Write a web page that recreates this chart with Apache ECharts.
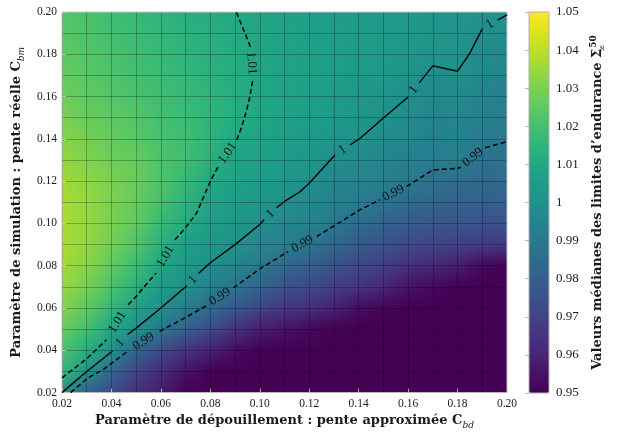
<!DOCTYPE html>
<html>
<head>
<meta charset="utf-8">
<script src="https://cdn.jsdelivr.net/npm/echarts@6/dist/echarts.min.js"></script>
<style>
html,body{margin:0;padding:0;background:#fff;}
#chart{width:617px;height:435px;}
</style>
</head>
<body>
<div id="chart"></div>
<script>
// ---------- data ----------
const xValues = [0.02,0.03,0.04,0.05,0.06,0.07,0.08,0.09,0.10,0.11,0.12,0.13,0.14,0.15,0.16,0.17,0.18,0.19,0.20];
const yValues = [0.02,0.03,0.04,0.05,0.06,0.07,0.08,0.09,0.10,0.11,0.12,0.13,0.14,0.15,0.16,0.17,0.18,0.19,0.20];
// valuesByX[i][j] : median value at x = xValues[i], y = yValues[j]
const valuesByX = [
  [1.000,1.016,1.021,1.026,1.031,1.034,1.036,1.037,1.037,1.037,1.036,1.034,1.032,1.030,1.028,1.026,1.025,1.024,1.023],
  [0.980,1.001,1.012,1.019,1.025,1.029,1.032,1.034,1.034,1.034,1.033,1.031,1.029,1.027,1.025,1.024,1.023,1.022,1.021],
  [0.972,0.982,1.000,1.009,1.016,1.021,1.025,1.028,1.030,1.030,1.030,1.028,1.026,1.025,1.023,1.022,1.021,1.020,1.019],
  [0.963,0.970,0.981,1.000,1.0065,1.013,1.018,1.022,1.025,1.026,1.027,1.026,1.024,1.023,1.021,1.020,1.019,1.018,1.017],
  [0.958,0.962,0.972,0.9895,1.000,1.004,1.0087,1.013,1.017,1.020,1.022,1.022,1.021,1.020,1.019,1.018,1.017,1.016,1.015],
  [0.950,0.955,0.965,0.980,0.9915,1.000,1.003,1.0065,1.011,1.014,1.017,1.019,1.019,1.018,1.017,1.016,1.015,1.014,1.013],
  [0.946,0.950,0.959,0.972,0.985,0.9935,0.999,1.0035,1.006,1.008,1.0098,1.0135,1.015,1.015,1.015,1.014,1.013,1.013,1.012],
  [0.945,0.947,0.953,0.964,0.977,0.988,0.995,1.000,1.003,1.005,1.007,1.0085,1.0105,1.0115,1.012,1.012,1.0115,1.011,1.0105],
  [0.945,0.946,0.950,0.958,0.970,0.981,0.9905,0.996,1.000,1.003,1.005,1.0065,1.008,1.009,1.0095,1.0095,1.0092,1.009,1.0085],
  [0.945,0.945,0.948,0.955,0.966,0.975,0.984,0.992,0.996,1.000,1.0025,1.0045,1.006,1.007,1.008,1.008,1.008,1.0078,1.0075],
  [0.945,0.945,0.946,0.952,0.963,0.972,0.980,0.9885,0.994,0.997,1.000,1.0025,1.004,1.0055,1.0065,1.007,1.007,1.0068,1.0065],
  [0.945,0.945,0.946,0.950,0.959,0.968,0.975,0.983,0.9905,0.994,0.996,0.999,1.002,1.004,1.005,1.006,1.006,1.006,1.0055],
  [0.945,0.945,0.945,0.948,0.953,0.965,0.971,0.978,0.985,0.9915,0.995,0.9975,1.000,1.002,1.0035,1.0045,1.005,1.005,1.0048],
  [0.945,0.945,0.945,0.946,0.951,0.961,0.968,0.975,0.981,0.988,0.993,0.995,0.9975,1.000,1.0015,1.003,1.004,1.004,1.004],
  [0.945,0.945,0.945,0.945,0.949,0.955,0.964,0.972,0.979,0.985,0.991,0.9935,0.996,0.998,0.9998,1.0015,1.003,1.0035,1.0035],
  [0.945,0.945,0.945,0.945,0.947,0.952,0.961,0.970,0.977,0.982,0.987,0.9925,0.9935,0.995,0.9965,0.9985,1.001,1.002,1.0025],
  [0.945,0.945,0.945,0.945,0.946,0.948,0.958,0.969,0.976,0.981,0.985,0.9935,0.9945,0.996,0.9975,0.9995,1.0015,1.0015,1.002],
  [0.945,0.945,0.945,0.945,0.945,0.946,0.952,0.967,0.975,0.980,0.984,0.9875,0.991,0.993,0.995,0.9965,0.998,0.9995,1.001],
  [0.945,0.945,0.945,0.945,0.945,0.945,0.950,0.966,0.975,0.980,0.985,0.9875,0.9905,0.992,0.9935,0.995,0.9965,0.998,1.0003]
];
// contour lines (null = break where the inline label sits)
const contour099 = [
  [0.0235,0.020],[0.0305,0.027],[0.0367,0.0309],[0.0465,0.0395], null,
  [0.0595,0.049],[0.070,0.0555],[0.0785,0.0612], null,
  [0.0893,0.0695],[0.100,0.0785],[0.1115,0.0867], null,
  [0.123,0.0938],[0.1405,0.1064],[0.1486,0.1112], null,
  [0.1594,0.1175],[0.170,0.1253],[0.1803,0.1261],[0.1812,0.1267], null,
  [0.1912,0.1358],[0.200,0.1387]
];
const contour100 = [
  [0.020,0.020],[0.030,0.030],[0.0405,0.0397], null,
  [0.0465,0.0475],[0.050,0.0505],[0.060,0.060],[0.0705,0.0705], null,
  [0.0752,0.0763],[0.080,0.0814],[0.090,0.090],[0.100,0.0995],[0.1018,0.1018], null,
  [0.1068,0.1074],[0.110,0.1104],[0.1163,0.115],[0.120,0.119],[0.1304,0.1324], null,
  [0.1365,0.1371],[0.1406,0.1403],[0.150,0.1499],[0.160,0.1598], null,
  [0.1645,0.1665],[0.170,0.1745],[0.180,0.172],[0.185,0.1806],[0.190,0.192], null,
  [0.1962,0.1962],[0.200,0.1986]
];
const contour101 = [
  [0.020,0.027],[0.030,0.036],[0.038,0.045], null,
  [0.0468,0.0616],[0.050,0.0655],[0.058,0.0765], null,
  [0.0657,0.0923],[0.070,0.098],[0.0745,0.105],[0.080,0.120],[0.0832,0.127], null,
  [0.0907,0.1395],[0.0927,0.1458],[0.0947,0.1537],[0.096,0.160],[0.0972,0.168], null,
  [0.0962,0.1836],[0.094,0.190],[0.0907,0.1994],[0.0905,0.200]
];
const contourLabels = ['0.99', '1', '1.01'];
const colorbarMin = 0.95, colorbarMax = 1.05;

// ---------- style ----------
const viridis = ['#440154','#471365','#482475','#463480','#414487','#3b528b','#355f8d','#2f6c8e','#2a788e','#25848e',
  '#21918c','#1e9c89','#22a884','#2fb47c','#44bf70','#5ec962','#7ad151','#9bd93c','#bddf26','#dfe318','#fde725'];
const serif = 'Liberation Serif';
const titleFont = 'DejaVu Serif';
const txt = '#1a1a1a';

const NX = xValues.length, NY = yValues.length;
const cellCanvas = document.createElement('canvas');
cellCanvas.width = NX; cellCanvas.height = NY;
const cctx = cellCanvas.getContext('2d');

const heatData = [];
xValues.forEach((x, i) => yValues.forEach((y, j) => heatData.push([x, y, valuesByX[i][j], i, j])));

function renderHeat(params, api) {
  const i = api.value(3), j = api.value(4);
  cctx.fillStyle = api.visual('color');
  cctx.fillRect(i, NY - 1 - j, 1, 1);
  const hx = (xValues[1] - xValues[0]) / 2, hy = (yValues[1] - yValues[0]) / 2;
  const f0 = api.coord([xValues[0] - hx, yValues[NY - 1] + hy]);
  const f1 = api.coord([xValues[NX - 1] + hx, yValues[0] - hy]);
  const cs = params.coordSys;
  const x = api.value(0), y = api.value(1);
  const a = api.coord([x - hx, y + hy]), b = api.coord([x + hx, y - hy]);
  const cx0 = Math.round(Math.max(a[0], cs.x)), cx1 = Math.round(Math.min(b[0], cs.x + cs.width));
  const cy0 = Math.round(Math.max(a[1], cs.y)), cy1 = Math.round(Math.min(b[1], cs.y + cs.height));
  return {
    type: 'image', silent: true,
    style: { image: cellCanvas, x: f0[0], y: f0[1], width: f1[0] - f0[0], height: f1[1] - f0[1] },
    clipPath: { type: 'rect', shape: { x: cx0, y: cy0, width: cx1 - cx0, height: cy1 - cy0 } }
  };
}

const contours = [
  { pts: contour099, label: contourLabels[0], dashed: true },
  { pts: contour100, label: contourLabels[1], dashed: false },
  { pts: contour101, label: contourLabels[2], dashed: true }
];
const labelItems = [];
contours.forEach(c => {
  for (let n = 1; n < c.pts.length - 1; n++) {
    if (c.pts[n] === null) {
      const p1 = c.pts[n - 1], p2 = c.pts[n + 1];
      labelItems.push({ value: [(p1[0] + p2[0]) / 2, (p1[1] + p2[1]) / 2], p1: p1, p2: p2, text: c.label });
    }
  }
});
function renderLabel(params, api) {
  const it = labelItems[params.dataIndex];
  const p1 = api.coord(it.p1), p2 = api.coord(it.p2);
  let ang = Math.atan2(-(p2[1] - p1[1]), p2[0] - p1[0]);
  if (ang > Math.PI / 2) ang -= Math.PI;
  if (ang < -Math.PI / 2) ang += Math.PI;
  const c = api.coord([api.value(0), api.value(1)]);
  return {
    type: 'text', x: c[0], y: c[1], rotation: ang, silent: true,
    style: { text: it.text, font: '13px "' + serif + '"', fill: '#111', align: 'center', verticalAlign: 'middle' }
  };
}

const gridLineStyle = { color: 'rgba(0,0,0,0.26)', width: 1 };
const axisCommon = {
  type: 'value', min: 0.02, max: 0.20, interval: 0.02, z: 3,
  axisLine: { show: false },
  axisTick: { show: true, inside: true, length: 4, lineStyle: { color: 'rgba(210,210,210,0.8)' } },
  minorTick: { show: false, splitNumber: 2 },
  splitLine: { show: true, showMaxLine: false, lineStyle: gridLineStyle },
  minorSplitLine: { show: true, lineStyle: gridLineStyle },
  axisLabel: { formatter: v => v.toFixed(2), fontFamily: serif, fontSize: 11.5, color: txt, margin: 5 }
};
const richTitle = {
  t: { fontFamily: titleFont, fontWeight: 'bold', fontSize: 13, lineHeight: 18, color: txt },
  s: { fontFamily: titleFont, fontStyle: 'italic', fontSize: 9, lineHeight: 10, verticalAlign: 'bottom', color: txt },
  sb: { fontFamily: titleFont, fontSize: 9, lineHeight: 10, verticalAlign: 'bottom', color: txt, width: 1 },
  sp: { fontFamily: titleFont, fontWeight: 'bold', fontSize: 9, lineHeight: 10, verticalAlign: 'top', color: txt }
};

const lineSeries = contours.map(c => ({
  type: 'line', xAxisIndex: 0, yAxisIndex: 0, z: 6, silent: true,
  data: c.pts.map(p => p ? p : ['-', '-']),
  showSymbol: false, symbol: 'none', connectNulls: false, clip: true,
  lineStyle: { color: '#000', width: c.dashed ? 1.5 : 1.4, type: c.dashed ? [5, 3] : 'solid' }
}));

const chart = echarts.init(document.getElementById('chart'), null, { renderer: 'canvas' });
chart.setOption({
  animation: false,
  backgroundColor: '#fff',
  grid: [
    { left: 62, top: 12, width: 445, height: 381, show: true, borderColor: '#c8c8c8', borderWidth: 1, backgroundColor: 'transparent', z: 4 },
    { left: 529, top: 12, width: 20, height: 381, show: true, borderColor: '#b0b0b0', borderWidth: 1, backgroundColor: 'transparent', z: 6 }
  ],
  xAxis: [
    Object.assign({}, axisCommon, {
      gridIndex: 0,
      name: '{t|Paramètre de dépouillement : pente approximée C}{s|bd}',
      nameLocation: 'middle', nameGap: 16, nameTextStyle: { rich: richTitle }
    }),
    { gridIndex: 1, type: 'value', show: false, min: 0, max: 1 }
  ],
  yAxis: [
    Object.assign({}, axisCommon, {
      gridIndex: 0,
      name: '{t|Paramètre de simulation : pente réelle C}{s|bm}',
      nameLocation: 'middle', nameGap: 28, nameTextStyle: { rich: richTitle }
    }),
    {
      gridIndex: 1, type: 'value', min: colorbarMin, max: colorbarMax, interval: 0.01, position: 'right', z: 7,
      axisLine: { show: false },
      axisTick: { show: true, inside: true, length: 4, lineStyle: { color: 'rgba(140,140,140,0.6)' } },
      splitLine: { show: false },
      axisLabel: { formatter: v => String(+v.toFixed(2)), fontFamily: serif, fontSize: 13, color: txt, margin: 7 },
      name: '{t|Valeurs médianes des limites d’endurance Σ}{sb|∞}{sp|50}',
      nameLocation: 'middle', nameGap: 40, nameTextStyle: { rich: richTitle }
    }
  ],
  visualMap: {
    type: 'continuous', min: colorbarMin, max: colorbarMax, dimension: 2, seriesIndex: 0,
    orient: 'vertical', left: 529, top: 12, itemWidth: 20, itemHeight: 381, padding: 0,
    calculable: false, hoverLink: false, z: 5,
    inRange: { color: viridis }, outOfRange: { color: viridis }
  },
  series: [
    {
      type: 'custom', xAxisIndex: 0, yAxisIndex: 0, z: 1, silent: true,
      renderItem: renderHeat, data: heatData, encode: { x: 0, y: 1 }
    }
  ].concat(lineSeries).concat([
    {
      type: 'custom', xAxisIndex: 0, yAxisIndex: 0, z: 7, silent: true,
      renderItem: renderLabel, data: labelItems.map(l => l.value), encode: { x: 0, y: 1 }
    }
  ])
});
</script>
</body>
</html>
